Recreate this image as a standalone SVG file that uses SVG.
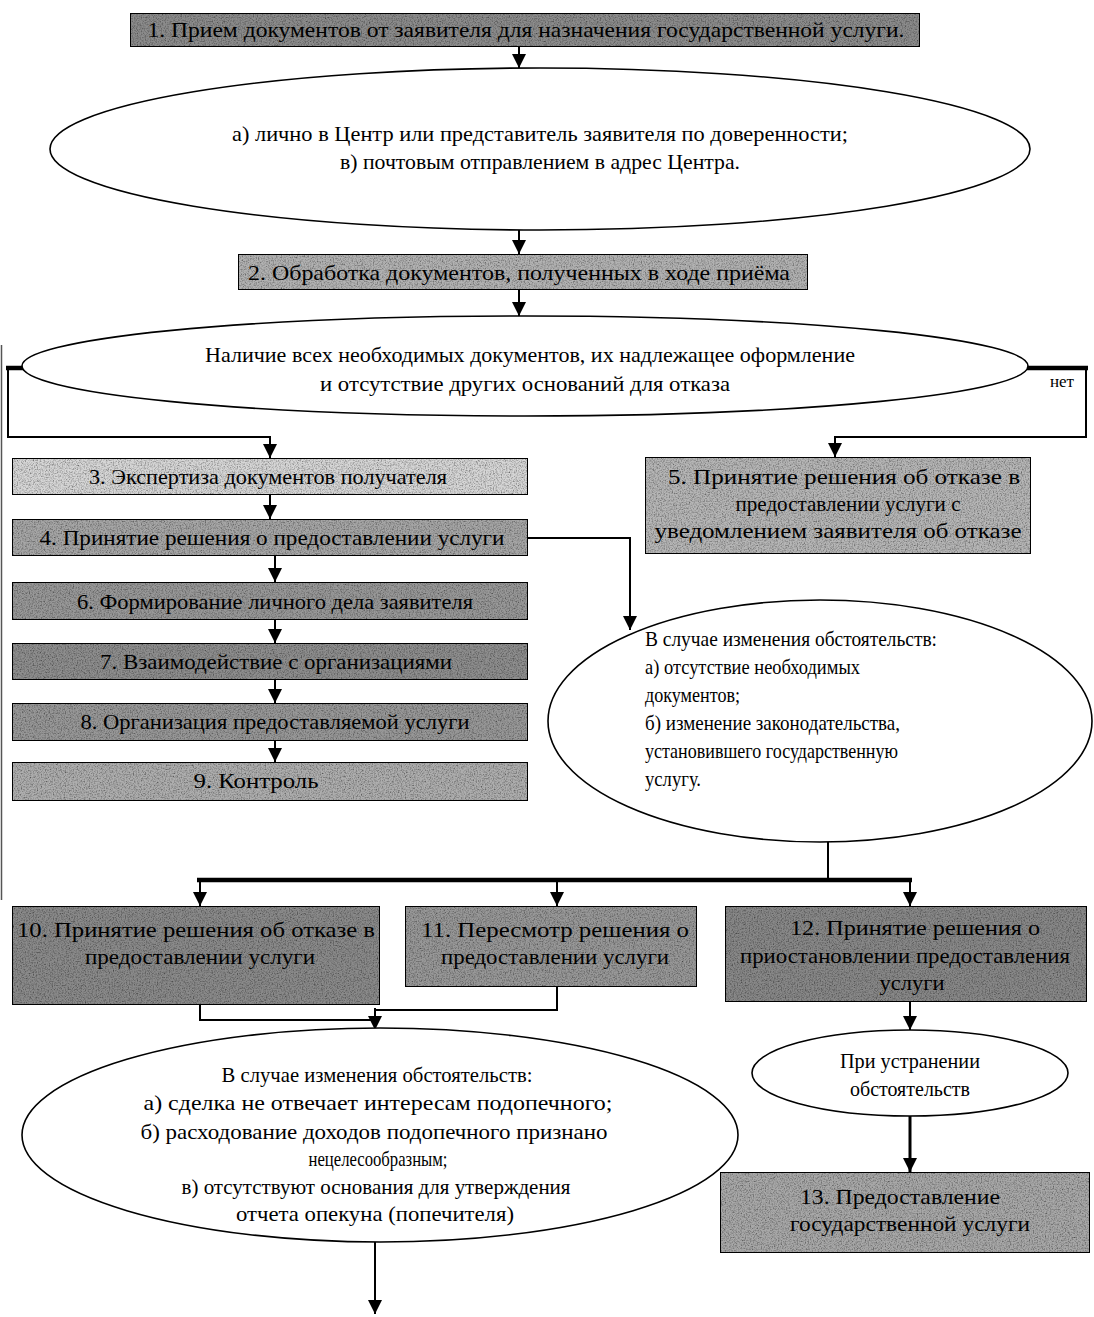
<svg xmlns="http://www.w3.org/2000/svg" width="1094" height="1317" viewBox="0 0 1094 1317">
<style>
  text { font-family: "Liberation Serif", "Times New Roman", serif; fill: #000; }
  .bt { font-size: 21px; text-anchor: middle; }
  .et { font-size: 21px; text-anchor: middle; }
  .el { font-size: 21px; text-anchor: start; }
  .box { stroke: #000; stroke-width: 2; filter: url(#grain); }
  .ell { fill: #fff; stroke: #000; stroke-width: 1.6; }
  .c { fill: none; stroke: #000; stroke-width: 2; }
  .ca { fill: none; stroke: #000; stroke-width: 2; marker-end: url(#arr); }
  .thick { fill: none; stroke: #000; stroke-width: 4.5; }
</style>
<defs>
  <marker id="arr" markerUnits="userSpaceOnUse" markerWidth="14" markerHeight="14" viewBox="0 0 14 14" refX="14" refY="7" orient="auto">
    <path d="M0,0 L14,7 L0,14 z" fill="#000"/>
  </marker>
  <filter id="grain" x="0" y="0" width="100%" height="100%">
    <feTurbulence type="fractalNoise" baseFrequency="0.75" numOctaves="2" seed="4" result="t"/>
    <feColorMatrix in="t" type="matrix" values="0 0 0 0 0  0 0 0 0 0  0 0 0 0 0  1.6 0 0 0 -0.65" result="a"/>
    <feComposite in="a" in2="SourceGraphic" operator="in" result="n"/>
    <feMerge><feMergeNode in="SourceGraphic"/><feMergeNode in="n"/></feMerge>
  </filter>
</defs>
<rect x="0" y="0" width="1094" height="1317" fill="#fff"/>
<line x1="1.5" y1="345" x2="1.5" y2="900" stroke="#555" stroke-width="1.5"/>

<g id="connectors">
  <line class="ca" x1="519" y1="47" x2="519" y2="68"/>
  <line class="ca" x1="519" y1="230" x2="519" y2="254"/>
  <line class="ca" x1="519" y1="290" x2="519" y2="316"/>
  <line class="thick" x1="6" y1="368" x2="24" y2="368"/>
  <polyline class="ca" points="8,368 8,437 270,437 270,458"/>
  <line class="thick" x1="1026" y1="368" x2="1088" y2="368"/>
  <polyline class="ca" points="1086,368 1086,437 835,437 835,457"/>
  <text x="1062" y="387" style="font-size:17px;text-anchor:middle">нет</text>
  <line class="ca" x1="270" y1="495" x2="270" y2="519"/>
  <line class="ca" x1="275" y1="556" x2="275" y2="582"/>
  <line class="ca" x1="275" y1="620" x2="275" y2="643"/>
  <line class="ca" x1="275" y1="680" x2="275" y2="703"/>
  <line class="ca" x1="275" y1="741" x2="275" y2="762"/>
  <polyline class="ca" points="528,538 630,538 630,630"/>
  <line class="c" x1="828" y1="842" x2="828" y2="880"/>
  <line class="thick" x1="197" y1="880" x2="912" y2="880"/>
  <line class="ca" x1="200" y1="880" x2="200" y2="906"/>
  <line class="ca" x1="557" y1="880" x2="557" y2="906"/>
  <line class="ca" x1="910" y1="880" x2="910" y2="906"/>
  <polyline class="c" points="200,1005 200,1020 375,1020"/>
  <polyline class="c" points="557,987 557,1010 375,1010"/>
  <line class="ca" x1="375" y1="1008" x2="375" y2="1030"/>
  <line class="ca" x1="910" y1="1002" x2="910" y2="1030"/>
  <line class="ca" x1="910" y1="1116" x2="910" y2="1172" style="stroke-width:3"/>
  <line class="ca" x1="375" y1="1242" x2="375" y2="1314"/>
</g>

<g id="n1">
  <rect class="box" x="130" y="13" width="790" height="34" fill="#8c8c8c"/>
  <text class="bt" x="526" y="37" textLength="757" lengthAdjust="spacingAndGlyphs" style="font-size:22px">1. Прием документов от заявителя для назначения государственной услуги.</text>
</g>
<g id="e1">
  <ellipse class="ell" cx="540" cy="149" rx="490" ry="81"/>
  <text class="et" x="540" y="141" textLength="616" lengthAdjust="spacingAndGlyphs">а) лично в Центр или представитель заявителя по доверенности;</text>
  <text class="et" x="540" y="169" textLength="400" lengthAdjust="spacingAndGlyphs">в) почтовым отправлением в адрес Центра.</text>
</g>
<g id="n2">
  <rect class="box" x="238" y="254" width="570" height="36" fill="#b2b2b2"/>
  <text class="bt" x="519" y="280" textLength="542" lengthAdjust="spacingAndGlyphs">2. Обработка документов, полученных в ходе приёма</text>
</g>
<g id="e2">
  <ellipse class="ell" cx="525" cy="366" rx="503" ry="50"/>
  <text class="et" x="530" y="362" textLength="650" lengthAdjust="spacingAndGlyphs">Наличие всех необходимых документов, их надлежащее оформление</text>
  <text class="et" x="525" y="391" textLength="410" lengthAdjust="spacingAndGlyphs">и отсутствие других оснований для отказа</text>
</g>
<g id="n3">
  <rect class="box" x="12" y="458" width="516" height="37" fill="#d6d6d6"/>
  <text class="bt" x="268" y="484" textLength="358" lengthAdjust="spacingAndGlyphs">3. Экспертиза документов получателя</text>
</g>
<g id="n4">
  <rect class="box" x="12" y="519" width="516" height="37" fill="#a6a6a6"/>
  <text class="bt" x="272" y="545" textLength="465" lengthAdjust="spacingAndGlyphs">4. Принятие решения о предоставлении услуги</text>
</g>
<g id="n5">
  <rect class="box" x="645" y="457" width="386" height="97" fill="#b6b6b6"/>
  <text class="bt" x="844" y="484" textLength="352" lengthAdjust="spacingAndGlyphs">5. Принятие решения об отказе в</text>
  <text class="bt" x="848" y="511" textLength="225" lengthAdjust="spacingAndGlyphs">предоставлении услуги с</text>
  <text class="bt" x="838" y="538" textLength="367" lengthAdjust="spacingAndGlyphs">уведомлением заявителя об отказе</text>
</g>
<g id="n6">
  <rect class="box" x="12" y="582" width="516" height="38" fill="#989898"/>
  <text class="bt" x="275" y="609" textLength="396" lengthAdjust="spacingAndGlyphs">6. Формирование личного дела заявителя</text>
</g>
<g id="n7">
  <rect class="box" x="12" y="643" width="516" height="37" fill="#8e8e8e"/>
  <text class="bt" x="276" y="669" textLength="352" lengthAdjust="spacingAndGlyphs">7. Взаимодействие с организациями</text>
</g>
<g id="n8">
  <rect class="box" x="12" y="703" width="516" height="38" fill="#989898"/>
  <text class="bt" x="275" y="729" textLength="389" lengthAdjust="spacingAndGlyphs">8. Организация предоставляемой услуги</text>
</g>
<g id="n9">
  <rect class="box" x="12" y="762" width="516" height="39" fill="#aeaeae"/>
  <text class="bt" x="256" y="788" textLength="125" lengthAdjust="spacingAndGlyphs">9. Контроль</text>
</g>
<g id="e3">
  <ellipse class="ell" cx="820" cy="721" rx="272" ry="121"/>
  <text class="el" x="645" y="646" textLength="292" lengthAdjust="spacingAndGlyphs">В случае изменения обстоятельств:</text>
  <text class="el" x="645" y="674" textLength="215" lengthAdjust="spacingAndGlyphs">а) отсутствие необходимых</text>
  <text class="el" x="645" y="702" textLength="95" lengthAdjust="spacingAndGlyphs">документов;</text>
  <text class="el" x="645" y="730" textLength="255" lengthAdjust="spacingAndGlyphs">б) изменение законодательства,</text>
  <text class="el" x="645" y="758" textLength="253" lengthAdjust="spacingAndGlyphs">установившего государственную</text>
  <text class="el" x="645" y="786" textLength="56" lengthAdjust="spacingAndGlyphs">услугу.</text>
</g>
<g id="n10">
  <rect class="box" x="12" y="906" width="368" height="99" fill="#8a8a8a"/>
  <text class="bt" x="196" y="937" textLength="358" lengthAdjust="spacingAndGlyphs">10. Принятие решения об отказе в</text>
  <text class="bt" x="200" y="964" textLength="230" lengthAdjust="spacingAndGlyphs">предоставлении услуги</text>
</g>
<g id="n11">
  <rect class="box" x="405" y="906" width="292" height="81" fill="#989898"/>
  <text class="bt" x="555" y="937" textLength="268" lengthAdjust="spacingAndGlyphs">11. Пересмотр решения о</text>
  <text class="bt" x="555" y="964" textLength="228" lengthAdjust="spacingAndGlyphs">предоставлении услуги</text>
</g>
<g id="n12">
  <rect class="box" x="725" y="906" width="362" height="96" fill="#888888"/>
  <text class="bt" x="915" y="935" textLength="250" lengthAdjust="spacingAndGlyphs">12. Принятие решения о</text>
  <text class="bt" x="905" y="963" textLength="330" lengthAdjust="spacingAndGlyphs">приостановлении предоставления</text>
  <text class="bt" x="912" y="990" textLength="65" lengthAdjust="spacingAndGlyphs">услуги</text>
</g>
<g id="e4">
  <ellipse class="ell" cx="380" cy="1135" rx="358" ry="107"/>
  <text class="et" x="377" y="1082" textLength="311" lengthAdjust="spacingAndGlyphs">В случае изменения обстоятельств:</text>
  <text class="et" x="378" y="1110" textLength="469" lengthAdjust="spacingAndGlyphs">а) сделка не отвечает интересам подопечного;</text>
  <text class="et" x="374" y="1139" textLength="467" lengthAdjust="spacingAndGlyphs">б) расходование доходов подопечного признано</text>
  <text class="et" x="378" y="1166" textLength="139" lengthAdjust="spacingAndGlyphs">нецелесообразным;</text>
  <text class="et" x="376" y="1194" textLength="389" lengthAdjust="spacingAndGlyphs">в) отсутствуют основания для утверждения</text>
  <text class="et" x="375" y="1221" textLength="278" lengthAdjust="spacingAndGlyphs">отчета опекуна (попечителя)</text>
</g>
<g id="e5">
  <ellipse class="ell" cx="910" cy="1073" rx="158" ry="43"/>
  <text class="et" x="910" y="1068" textLength="140" lengthAdjust="spacingAndGlyphs">При устранении</text>
  <text class="et" x="910" y="1096" textLength="120" lengthAdjust="spacingAndGlyphs">обстоятельств</text>
</g>
<g id="n13">
  <rect class="box" x="720" y="1172" width="370" height="81" fill="#a8a8a8"/>
  <text class="bt" x="900" y="1204" textLength="200" lengthAdjust="spacingAndGlyphs">13. Предоставление</text>
  <text class="bt" x="910" y="1231" textLength="240" lengthAdjust="spacingAndGlyphs">государственной услуги</text>
</g>
</svg>
